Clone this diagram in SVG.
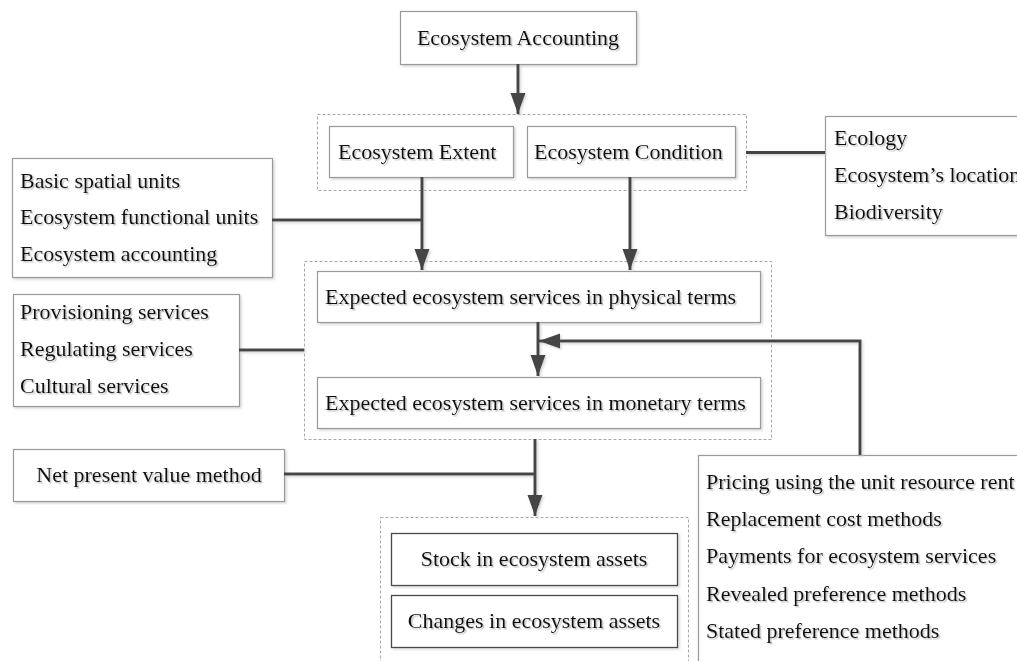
<svg xmlns="http://www.w3.org/2000/svg" width="1017" height="661" viewBox="0 0 1017 661">
<style>
.box{fill:#fff;stroke:#9a9a9a;stroke-width:1.2}
.dbox{fill:#fff;stroke:#4a4a4a;stroke-width:1.3}
.grp{fill:none;stroke:#a8a8a8;stroke-width:1;stroke-dasharray:3 2}
.t{font-family:"Liberation Serif","Times New Roman",serif;font-size:22px;fill:#111}
.c{fill:none;stroke:#444;stroke-width:3}
</style>
<defs>
<filter id="sh" x="-5%" y="-20%" width="110%" height="150%">
<feDropShadow dx="1.5" dy="1.5" stdDeviation="0.7" flood-color="#999" flood-opacity="0.6"/>
</filter>
<filter id="bs" x="-5%" y="-5%" width="110%" height="110%">
<feDropShadow dx="1.5" dy="1.5" stdDeviation="1" flood-color="#ccc" flood-opacity="0.8"/>
</filter>
<marker id="ah" markerUnits="userSpaceOnUse" markerWidth="22" markerHeight="16" refX="21" refY="7.5" orient="auto">
<path d="M0,0 L21,7.5 L0,15 z" fill="#444"/>
</marker>
</defs>

<g id="groups">
<rect class="grp" x="317.5" y="114.5" width="429" height="76"/>
<rect class="grp" x="304.5" y="261.5" width="467" height="178"/>
<rect class="grp" x="380.5" y="517.5" width="308" height="160"/>
</g>

<g id="n-accounting" filter="url(#bs)">
<rect class="box" x="400.5" y="11.5" width="236" height="53"/>
<text class="t" x="518" y="45" text-anchor="middle" filter="url(#sh)">Ecosystem Accounting</text>
</g>
<g id="n-extent" filter="url(#bs)">
<rect class="box" x="329.5" y="126.5" width="184" height="51"/>
<text class="t" x="338" y="159" filter="url(#sh)">Ecosystem Extent</text>
</g>
<g id="n-condition" filter="url(#bs)">
<rect class="box" x="527.5" y="126.5" width="208" height="51"/>
<text class="t" x="534" y="159" filter="url(#sh)">Ecosystem Condition</text>
</g>
<g id="n-ecology" filter="url(#bs)">
<rect class="box" x="825.5" y="116.5" width="200" height="119"/>
<text class="t" x="834" y="145" filter="url(#sh)">Ecology</text>
<text class="t" x="834" y="182" filter="url(#sh)">Ecosystem’s location</text>
<text class="t" x="834" y="219" filter="url(#sh)">Biodiversity</text>
</g>
<g id="n-units" filter="url(#bs)">
<rect class="box" x="12.5" y="158.5" width="260" height="119"/>
<text class="t" x="20" y="188" filter="url(#sh)">Basic spatial units</text>
<text class="t" x="20" y="224" filter="url(#sh)">Ecosystem functional units</text>
<text class="t" x="20" y="261" filter="url(#sh)">Ecosystem accounting</text>
</g>
<g id="n-physical" filter="url(#bs)">
<rect class="box" x="317.5" y="271.5" width="443" height="51"/>
<text class="t" x="325" y="304" filter="url(#sh)">Expected ecosystem services in physical terms</text>
</g>
<g id="n-monetary" filter="url(#bs)">
<rect class="box" x="317.5" y="377.5" width="443" height="51"/>
<text class="t" x="325" y="410" filter="url(#sh)">Expected ecosystem services in monetary terms</text>
</g>
<g id="n-services" filter="url(#bs)">
<rect class="box" x="13.5" y="294.5" width="226" height="112"/>
<text class="t" x="20" y="319" filter="url(#sh)">Provisioning services</text>
<text class="t" x="20" y="356" filter="url(#sh)">Regulating services</text>
<text class="t" x="20" y="393" filter="url(#sh)">Cultural services</text>
</g>
<g id="n-npv" filter="url(#bs)">
<rect class="box" x="13.5" y="449.5" width="271" height="52"/>
<text class="t" x="149" y="482" text-anchor="middle" filter="url(#sh)">Net present value method</text>
</g>
<g id="n-pricing" filter="url(#bs)">
<rect class="box" x="698.5" y="455.5" width="330" height="220"/>
<text class="t" x="706" y="489" filter="url(#sh)">Pricing using the unit resource rent</text>
<text class="t" x="706" y="526" filter="url(#sh)">Replacement cost methods</text>
<text class="t" x="706" y="563" filter="url(#sh)">Payments for ecosystem services</text>
<text class="t" x="706" y="601" filter="url(#sh)">Revealed preference methods</text>
<text class="t" x="706" y="638" filter="url(#sh)">Stated preference methods</text>
</g>
<g id="n-stock" filter="url(#bs)">
<rect class="dbox" x="391.5" y="533.5" width="286" height="52"/>
<text class="t" x="534" y="566" text-anchor="middle" filter="url(#sh)">Stock in ecosystem assets</text>
</g>
<g id="n-changes" filter="url(#bs)">
<rect class="dbox" x="391.5" y="595.5" width="286" height="52"/>
<text class="t" x="534" y="628" text-anchor="middle" filter="url(#sh)">Changes in ecosystem assets</text>
</g>

<g id="connectors" filter="url(#bs)">
<path class="c" d="M518,64 V114" marker-end="url(#ah)"/>
<path class="c" d="M746,152.5 H825"/>
<path class="c" d="M422,177 V270" marker-end="url(#ah)"/>
<path class="c" d="M272,220 H422"/>
<path class="c" d="M630,177 V270" marker-end="url(#ah)"/>
<path class="c" d="M239,350 H304"/>
<path class="c" d="M538,322 V376" marker-end="url(#ah)"/>
<path class="c" d="M860,455 V341 H539" marker-end="url(#ah)"/>
<path class="c" d="M535,439 V516" marker-end="url(#ah)"/>
<path class="c" d="M284,474 H535"/>
</g>
</svg>
